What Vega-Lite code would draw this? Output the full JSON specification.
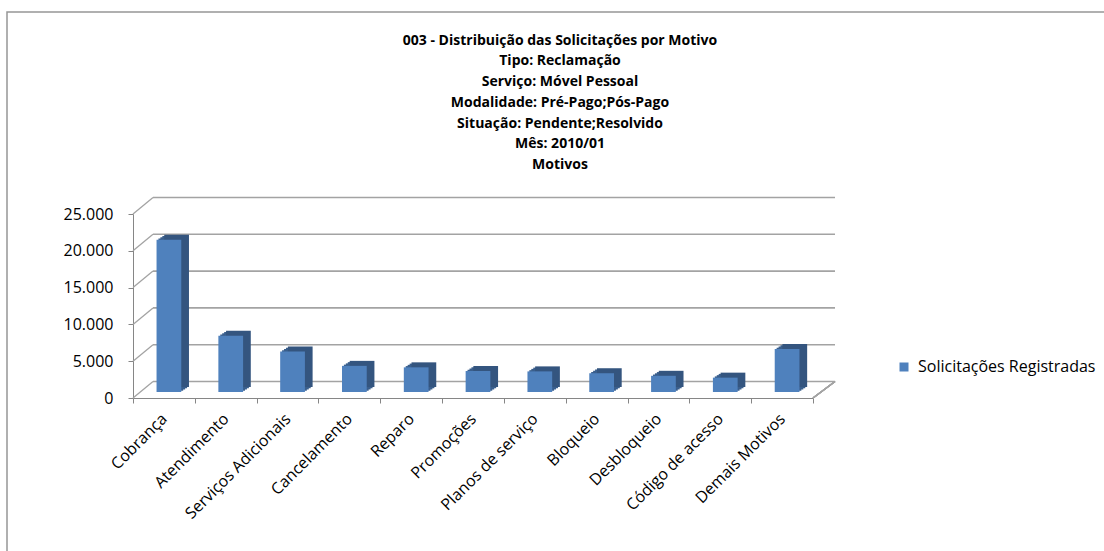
{
  "$schema": "https://vega.github.io/schema/vega-lite/v6.json",
  "width": 1110,
  "height": 550,
  "autosize": {"type": "none"},
  "padding": {"left": 7, "top": 12, "right": 0, "bottom": 0},
  "background": "white",
  "title": {
    "text": ["003 - Distribuição das Solicitações por Motivo", "Tipo: Reclamação", "Serviço: Móvel Pessoal", "Modalidade: Pré-Pago;Pós-Pago", "Situação: Pendente;Resolvido", "Mês: 2010/01", "Motivos"],
    "anchor": "middle",
    "frame": "group",
    "font": "Open Sans",
    "fontSize": 14,
    "fontWeight": "bold",
    "lineHeight": 20.7,
    "color": "black",
    "offset": -160,
    "dx": -2
  },
  "datasets": {
    "motivos": [
      {"motivo": "Cobrança", "valor": 20700},
      {"motivo": "Atendimento", "valor": 7650},
      {"motivo": "Serviços Adicionais", "valor": 5500},
      {"motivo": "Cancelamento", "valor": 3550},
      {"motivo": "Reparo", "valor": 3350},
      {"motivo": "Promoções", "valor": 2850},
      {"motivo": "Planos de serviço", "valor": 2800},
      {"motivo": "Bloqueio", "valor": 2550},
      {"motivo": "Desbloqueio", "valor": 2200},
      {"motivo": "Código de acesso", "valor": 1950},
      {"motivo": "Demais Motivos", "valor": 5850}
    ],
    "grade": [{"valor": 0}, {"valor": 5000}, {"valor": 10000}, {"valor": 15000}, {"valor": 20000}, {"valor": 25000}]
  },
  "layer": [
    {
      "data": {"name": "grade"},
      "layer": [
        {
          "mark": {"type": "rule", "color": "#a3a3a3", "strokeWidth": 1.6, "xOffset": 20, "x2Offset": 22, "yOffset": -16.5},
          "encoding": {
            "x": {"datum": 0, "type": "quantitative", "scale": {"domain": [0, 11], "range": [126, 806]}, "axis": null},
            "x2": {"datum": 11},
            "y": {"field": "valor", "type": "quantitative", "title": null, "scale": {"domain": [0, 25000], "range": [386, 202], "nice": false}}
          }
        },
        {
          "mark": {"type": "rule", "color": "#a3a3a3", "strokeWidth": 1.3, "x2Offset": 20, "y2Offset": -16.5},
          "encoding": {
            "x": {"datum": 0, "type": "quantitative", "scale": {"domain": [0, 11], "range": [126, 806]}, "axis": null},
            "x2": {"datum": 0},
            "y": {"field": "valor", "type": "quantitative", "title": null},
            "y2": {"field": "valor"}
          }
        },
        {
          "mark": {"type": "rule", "color": "#a3a3a3", "strokeWidth": 1.3, "x2Offset": 22, "y2Offset": -16.5},
          "encoding": {
            "x": {"datum": 11, "type": "quantitative", "scale": {"domain": [0, 11], "range": [126, 806]}, "axis": null},
            "x2": {"datum": 11},
            "y": {"datum": 0, "type": "quantitative", "title": null},
            "y2": {"datum": 0}
          }
        }
      ]
    },
    {
      "data": {"name": "motivos"},
      "encoding": {
        "x": {"field": "motivo", "type": "nominal", "sort": null, "scale": {"range": [126, 806], "paddingInner": 0, "paddingOuter": 0}},
        "y": {"field": "valor", "type": "quantitative", "title": null, "scale": {"domain": [0, 25000], "range": [386, 202], "nice": false}}
      },
      "layer": [
        {"mark": {"type": "bar", "color": "#3a5f8d", "width": {"band": 0.4}, "xOffset": 6.9, "x2Offset": 6.9, "yOffset": -7.25, "y2Offset": -7.25}},
        {"mark": {"type": "bar", "color": "#3a5f8d", "width": {"band": 0.4}, "xOffset": 8.85, "x2Offset": 8.85, "yOffset": -8.5, "y2Offset": -8.5}},
        {"mark": {"type": "bar", "color": "#3a5f8d", "width": {"band": 0.4}, "xOffset": 10.8, "x2Offset": 10.8, "yOffset": -9.75, "y2Offset": -9.75}},
        {"mark": {"type": "bar", "color": "#34557f", "width": {"band": 0.4}, "xOffset": 12.7, "x2Offset": 12.7, "yOffset": -11, "y2Offset": -11}},
        {
          "mark": {"type": "bar", "width": {"band": 0.4}, "xOffset": 5, "x2Offset": 5, "yOffset": -6, "y2Offset": -6},
          "encoding": {
            "x": {
              "field": "motivo", "type": "nominal", "sort": null,
              "axis": {
                "orient": "bottom", "offset": -164, "title": null, "labelAngle": -45,
                "labelFont": "Open Sans", "labelFontSize": 16, "labelColor": "black",
                "domainColor": "#868686", "tickColor": "#868686", "tickSize": 5, "tickBand": "extent",
                "labelPadding": 13, "labelLimit": 0, "grid": false
              }
            },
            "y": {
              "field": "valor", "type": "quantitative",
              "axis": {
                "orient": "left", "offset": -126, "title": null, "format": ",d",
                "values": [0, 5000, 10000, 15000, 20000, 25000],
                "labelFont": "Open Sans", "labelFontSize": 16, "labelColor": "black",
                "domainColor": "#868686", "tickColor": "#868686", "tickSize": 5,
                "labelPadding": 15, "grid": false
              }
            },
            "color": {
              "datum": "Solicitações Registradas",
              "scale": {"range": ["#4f81bd"]},
              "legend": {
                "title": null, "orient": "none", "legendX": 889, "legendY": 347,
                "symbolType": "square", "symbolSize": 81, "symbolStrokeWidth": 0,
                "labelFont": "Open Sans", "labelFontSize": 16, "labelColor": "black", "labelOffset": 6, "labelLimit": 0
              }
            }
          }
        }
      ]
    }
  ],
  "resolve": {"scale": {"x": "independent"}},
  "config": {
    "view": {"stroke": "#969696", "strokeWidth": 1.5},
    "locale": {"number": {"decimal": ",", "thousands": ".", "grouping": [3], "currency": ["R$", ""]}}
  }
}
